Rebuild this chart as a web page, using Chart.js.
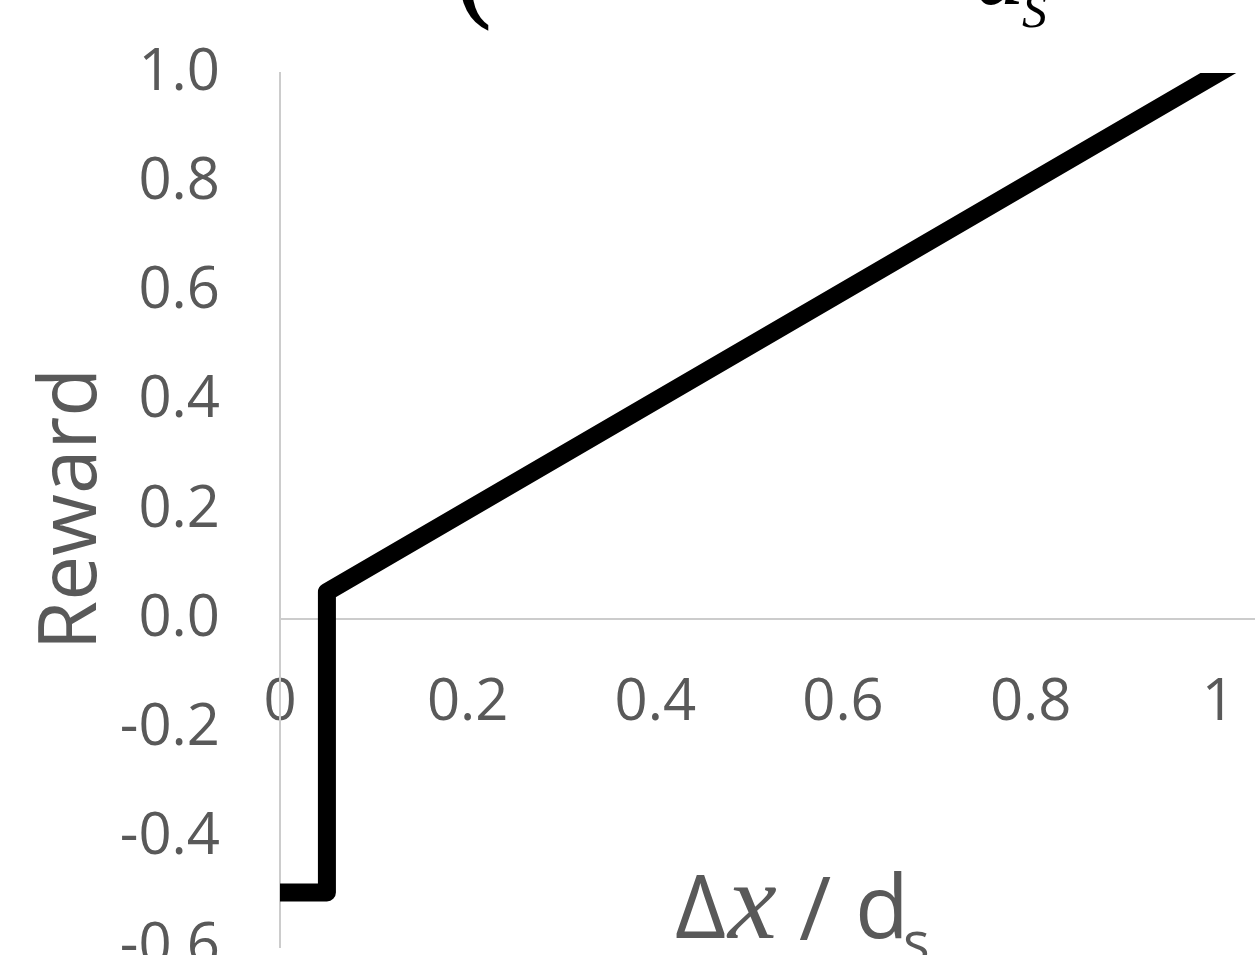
<!DOCTYPE html>
<html>
<head>
<meta charset="utf-8">
<script src="https://cdn.jsdelivr.net/npm/chart.js@4"></script>
<style>
  html, body { margin: 0; padding: 0; background: #fff; overflow: hidden; width: 1255px; height: 955px; }
  #wrap { position: absolute; left: 0; top: 0; width: 1500px; height: 955px; }
</style>
</head>
<body>
<div id="wrap"><canvas id="rewardChart"></canvas></div>
<script>
"use strict";

// reward curve (x = Δx / d_s)
const xValues = [0, 0.05, 0.05, 1.2];
const rewardValues = [-0.5, -0.5, 0.05, 1.2];

const xTickValues = [0, 0.2, 0.4, 0.6, 0.8, 1];
const yTickValues = [-0.6, -0.4, -0.2, 0, 0.2, 0.4, 0.6, 0.8, 1.0];

const yTitle = "Reward";
const xTitleParts = ["Δ", "x", "/", "d", "s"];
const formulaParts = ["(", "d", "S"];

const labelGrey = "#595959";
const axisGrey = "#cccccc";
const tickFont = { family: "Open Sans", size: 58 };

/**
 * Draws the axis titles and the cut-off formula above the plot
 */
const titlesPlugin = {
  id: "titles",
  afterDraw(chart) {
    const ctx = chart.ctx;

    ctx.save();
    ctx.fillStyle = labelGrey;
    ctx.textBaseline = "alphabetic";
    ctx.translate(96, 509);
    ctx.rotate(-Math.PI / 2);
    ctx.textAlign = "center";
    ctx.font = '80px "Open Sans"';
    ctx.fillText(yTitle, 0, 0);
    ctx.restore();

    ctx.save();
    ctx.fillStyle = labelGrey;
    ctx.textAlign = "left";
    ctx.textBaseline = "alphabetic";
    ctx.font = '88px "Open Sans"';
    ctx.fillText(xTitleParts[0], 675, 938);
    ctx.font = 'italic 110px "Liberation Serif"';
    ctx.fillText(xTitleParts[1], 728, 938);
    ctx.font = '88px "Open Sans"';
    ctx.fillText(xTitleParts[2], 799, 940);
    ctx.fillText(xTitleParts[3], 855, 938);
    ctx.font = '56px "Open Sans"';
    ctx.fillText(xTitleParts[4], 903, 962);
    ctx.restore();

    ctx.save();
    ctx.fillStyle = "#000";
    ctx.textAlign = "left";
    ctx.textBaseline = "alphabetic";
    ctx.font = '120px "DejaVu Serif"';
    ctx.fillText(formulaParts[0], 450, 12);
    ctx.font = 'italic 100px "Liberation Serif"';
    ctx.fillText(formulaParts[1], 975, 4);
    ctx.font = 'italic 50px "Liberation Serif"';
    ctx.fillText(formulaParts[2], 1022, 27);
    ctx.restore();
  },
};

function buildChart() {
  const points = xValues.map((x, i) => ({ x: x, y: rewardValues[i] }));

  return new Chart(document.getElementById("rewardChart"), {
    type: "scatter",
    data: {
      datasets: [
        {
          data: points,
          showLine: true,
          borderColor: "#000",
          backgroundColor: "#000",
          borderWidth: 18,
          borderJoinStyle: "round",
          pointRadius: 0,
          tension: 0,
        },
      ],
    },
    options: {
      responsive: true,
      maintainAspectRatio: false,
      animation: false,
      events: [],
      layout: { padding: { top: 73, bottom: 8, left: 0, right: 94 } },
      plugins: { legend: { display: false }, tooltip: { enabled: false } },
      scales: {
        x: {
          type: "linear",
          position: { y: 0 },
          min: 0,
          max: 1.2,
          afterBuildTicks: (scale) => {
            scale.ticks = xTickValues.map((v) => ({ value: v }));
          },
          afterFit: (scale) => {
            scale.height = 0;
            scale.paddingLeft = 0;
            scale.paddingRight = 0;
          },
          grid: { display: false, drawTicks: false },
          border: { display: true, color: axisGrey, width: 2 },
          ticks: {
            color: labelGrey,
            font: tickFont,
            padding: 49,
            maxRotation: 0,
            autoSkip: false,
            callback: (v) => String(v),
          },
        },
        y: {
          type: "linear",
          position: "left",
          min: -0.6,
          max: 1.0,
          afterBuildTicks: (scale) => {
            scale.ticks = yTickValues.map((v) => ({ value: v }));
          },
          afterFit: (scale) => {
            scale.width = 280;
            scale.paddingTop = 0;
            scale.paddingBottom = 0;
          },
          grid: { display: false, drawTicks: false },
          border: { display: true, color: axisGrey, width: 2 },
          ticks: {
            color: labelGrey,
            font: tickFont,
            padding: 60,
            autoSkip: false,
            callback: (v) => v.toFixed(1),
          },
        },
      },
    },
    plugins: [titlesPlugin],
  });
}

buildChart();
</script>
</body>
</html>
